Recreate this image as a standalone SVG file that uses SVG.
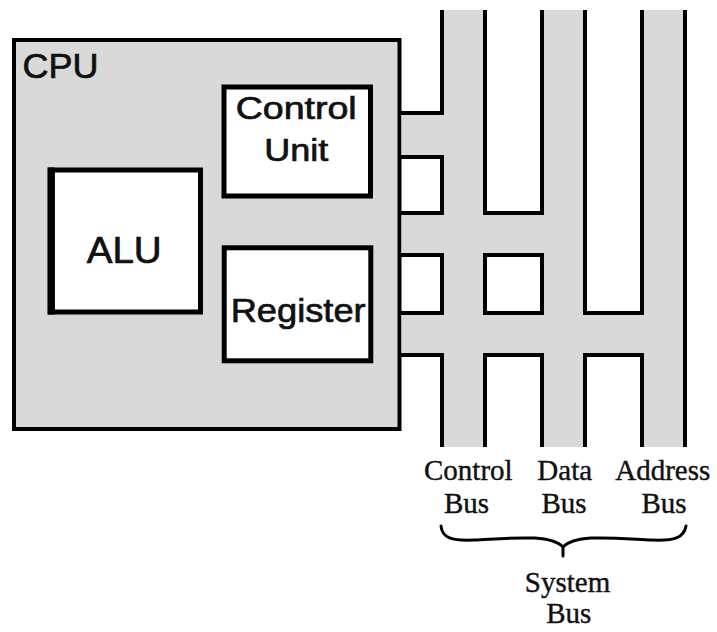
<svg xmlns="http://www.w3.org/2000/svg" width="717" height="632" viewBox="0 0 717 632">
  <style>
    .bg { fill: #ffffff; }
    .gray { fill: #d9d9d9; stroke: none; }
    .frame { fill: #d9d9d9; stroke: #000; stroke-width: 4; }
    .box { fill: #ffffff; stroke: #000; stroke-width: 5; }
    .wire { fill: none; stroke: #000; stroke-width: 4; stroke-linejoin: miter; stroke-linecap: butt; }
    .brace { fill: none; stroke: #000; stroke-width: 3; stroke-linecap: round; stroke-linejoin: round; }
    .sans { font-family: "Liberation Sans", Arial, sans-serif; fill: #111; stroke: #111; stroke-width: 0.7; }
    .serif { font-family: "Liberation Serif", "Times New Roman", serif; font-size: 29px; fill: #111; stroke: #111; stroke-width: 0.4; text-anchor: middle; }
  </style>
  <rect class="bg" x="0" y="0" width="717" height="632"/>

  <g id="cpu">
    <rect class="frame" x="14" y="40" width="385.5" height="389"/>
    <text class="sans" x="22.5" y="78" font-size="35" textLength="76" lengthAdjust="spacingAndGlyphs">CPU</text>
  </g>

  <g id="control-unit">
    <rect class="box" x="224" y="87" width="146.5" height="109"/>
    <text class="sans" x="235.7" y="118.5" font-size="31" textLength="121" lengthAdjust="spacingAndGlyphs">Control</text>
    <text class="sans" x="264.3" y="161" font-size="31" textLength="64" lengthAdjust="spacingAndGlyphs">Unit</text>
  </g>

  <g id="alu">
    <rect class="box" x="50.5" y="170" width="150" height="142"/>
    <line x1="51.2" y1="167.5" x2="51.2" y2="314.5" stroke="#000" stroke-width="7.5"/>
    <text class="sans" x="86.7" y="262.5" font-size="36" textLength="75" lengthAdjust="spacingAndGlyphs">ALU</text>
  </g>

  <g id="register">
    <rect class="box" x="224.2" y="247.8" width="146.6" height="113"/>
    <text class="sans" x="230.7" y="321.7" font-size="34" textLength="135" lengthAdjust="spacingAndGlyphs">Register</text>
  </g>

  <g id="connectors">
    <rect class="gray" x="442" y="10" width="43" height="437"/>
    <rect class="gray" x="542" y="10" width="43" height="437"/>
    <rect class="gray" x="642" y="10" width="43" height="437"/>
    <rect class="gray" x="401.5" y="113" width="42.5" height="44"/>
    <rect class="gray" x="401.5" y="213" width="142.5" height="42"/>
    <rect class="gray" x="401.5" y="313" width="242.5" height="42"/>
    <path class="wire" d="M442,10 V113 H399.5 M399.5,157 H442 V213 H399.5 M399.5,255 H442 V313 H399.5 M399.5,355 H442 V447"/>
    <path class="wire" d="M485,10 V213 H542 V10 M485,255 H542 V313 H485 Z M485,447 V355 H542 V447"/>
    <path class="wire" d="M585,10 V313 H642 V10 M585,447 V355 H642 V447"/>
    <path class="wire" d="M685,10 V447"/>
  </g>

  <g id="control-bus">
    <text class="serif" x="468.3" y="479.5">Control</text>
    <text class="serif" x="466.5" y="512.7">Bus</text>
  </g>
  <g id="data-bus">
    <text class="serif" x="564.7" y="479.5">Data</text>
    <text class="serif" x="564" y="512.7">Bus</text>
  </g>
  <g id="address-bus">
    <text class="serif" x="662.8" y="479.5">Address</text>
    <text class="serif" x="664" y="512.7">Bus</text>
  </g>

  <g id="system-bus">
    <path class="brace" d="M441,526 C442,538 452,541 474,540 C515,538 550,534 563,547 L563,556 M563,547 C576,534 611,538 652,540 C674,541 684,538 686,526"/>
    <text class="serif" x="567.5" y="591.7">System</text>
    <text class="serif" x="568.7" y="623.3">Bus</text>
  </g>
</svg>
